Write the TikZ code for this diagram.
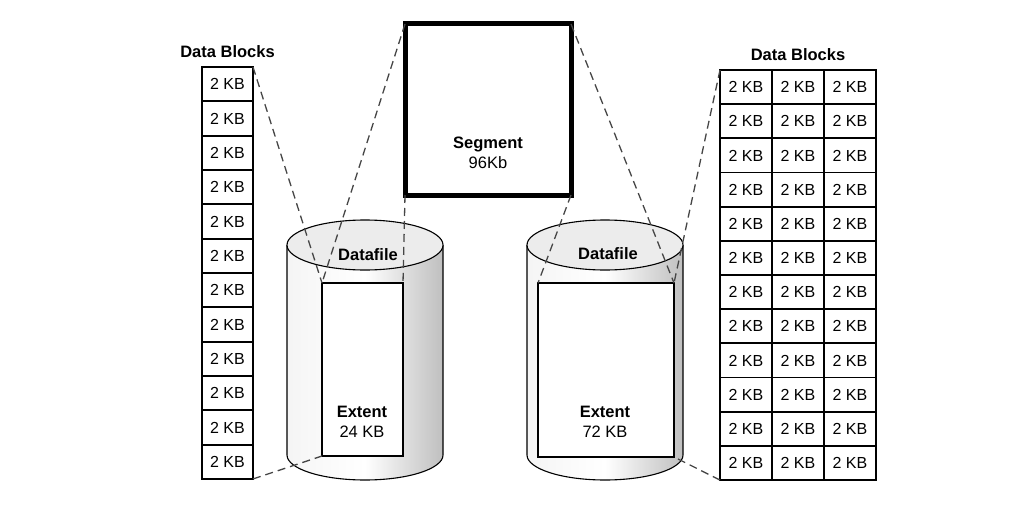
\documentclass[tikz,border=0pt]{standalone}
\usepackage{fontspec}
\setmainfont{Liberation Sans}
\usetikzlibrary{positioning}

\begin{document}
\begin{tikzpicture}[
      x=1pt, y=-1pt,
      cell/.style={rectangle, draw, line width=1.8pt, minimum width=52pt, minimum height=34.2pt, inner sep=0pt, outer sep=0pt, font=\fontsize{16}{18}\selectfont},
      extent/.style={rectangle, draw, fill=white, line width=2.8pt, inner sep=0pt, outer sep=0pt},
      segbox/.style={rectangle, draw, fill=white, line width=5pt, minimum width=166pt, minimum height=171pt, inner sep=0pt, outer sep=0pt},
      caption/.style={font=\fontsize{16.5}{20}\selectfont, align=center, inner sep=0pt},
      link/.style={draw, line width=1.3pt, dash pattern=on 8pt off 5pt, gray!55!black}
      ]
      \useasboundingbox (0,0) rectangle (1024,516);

      % Datafiles
      \foreach \cx in {365,605} {
        \path[left color=gray!8, right color=gray!50, middle color=white]
          (\cx-78,245) -- (\cx-78,455) arc[start angle=180, end angle=0, x radius=78, y radius=25] -- (\cx+78,245) -- cycle;
        \draw[line width=1.1pt] (\cx-78,245) -- (\cx-78,455) arc[start angle=180, end angle=0, x radius=78, y radius=25] -- (\cx+78,245);
        \draw[line width=1.1pt, fill=gray!15] (\cx,245) ellipse[x radius=78, y radius=25];
      }
      \node[caption] (dfa) at (368,255) {\textbf{Datafile}};
      \node[caption] (dfb) at (608,254) {\textbf{Datafile}};

      % Nodes
      \node[segbox] (seg) at (488,109.5) {};
      \node[caption] (segtxt) at (488,153) {\textbf{Segment}\\96Kb};
      \node[extent, minimum width=81pt, minimum height=173pt] (exta) at (362.5,369.5) {};
      \node[caption] (exttxta) at (362,422) {\textbf{Extent}\\24 KB};
      \node[extent, minimum width=136pt, minimum height=174pt] (extb) at (606,370) {};
      \node[caption] (exttxtb) at (605,422) {\textbf{Extent}\\72 KB};

      % Data blocks
      \foreach \r in {1,...,12} {
        \node[cell, minimum width=51pt, minimum height=34.33pt] (lb\r) at (227.5,{67+34.33*(\r-0.5)}) {2 KB};
        \foreach \c in {1,2,3}
          \node[cell, minimum height=34.17pt] (rb\r-\c) at ({720+52*(\c-0.5)},{70+34.17*(\r-0.5)}) {2 KB};
      }
      \node[caption, above=9pt of lb1] (lbtitle) {\textbf{Data Blocks}};
      \node[caption, above=9pt of rb1-2] (rbtitle) {\textbf{Data Blocks}};

      % Links
      \draw[link] (lb1.north east) -- (exta.north west);
      \draw[link] (lb12.south east) -- (exta.south west);
      \draw[link] (seg.north west) -- (exta.north west);
      \draw[link] (seg.south west) -- (exta.north east);
      \draw[link] (seg.south east) -- (extb.north west);
      \draw[link] (seg.north east) -- (extb.north east);
      \draw[link] (rb1-1.north west) -- (extb.north east);
      \draw[link] (rb12-1.south west) -- (extb.south east);
    \end{tikzpicture}
\end{document}
